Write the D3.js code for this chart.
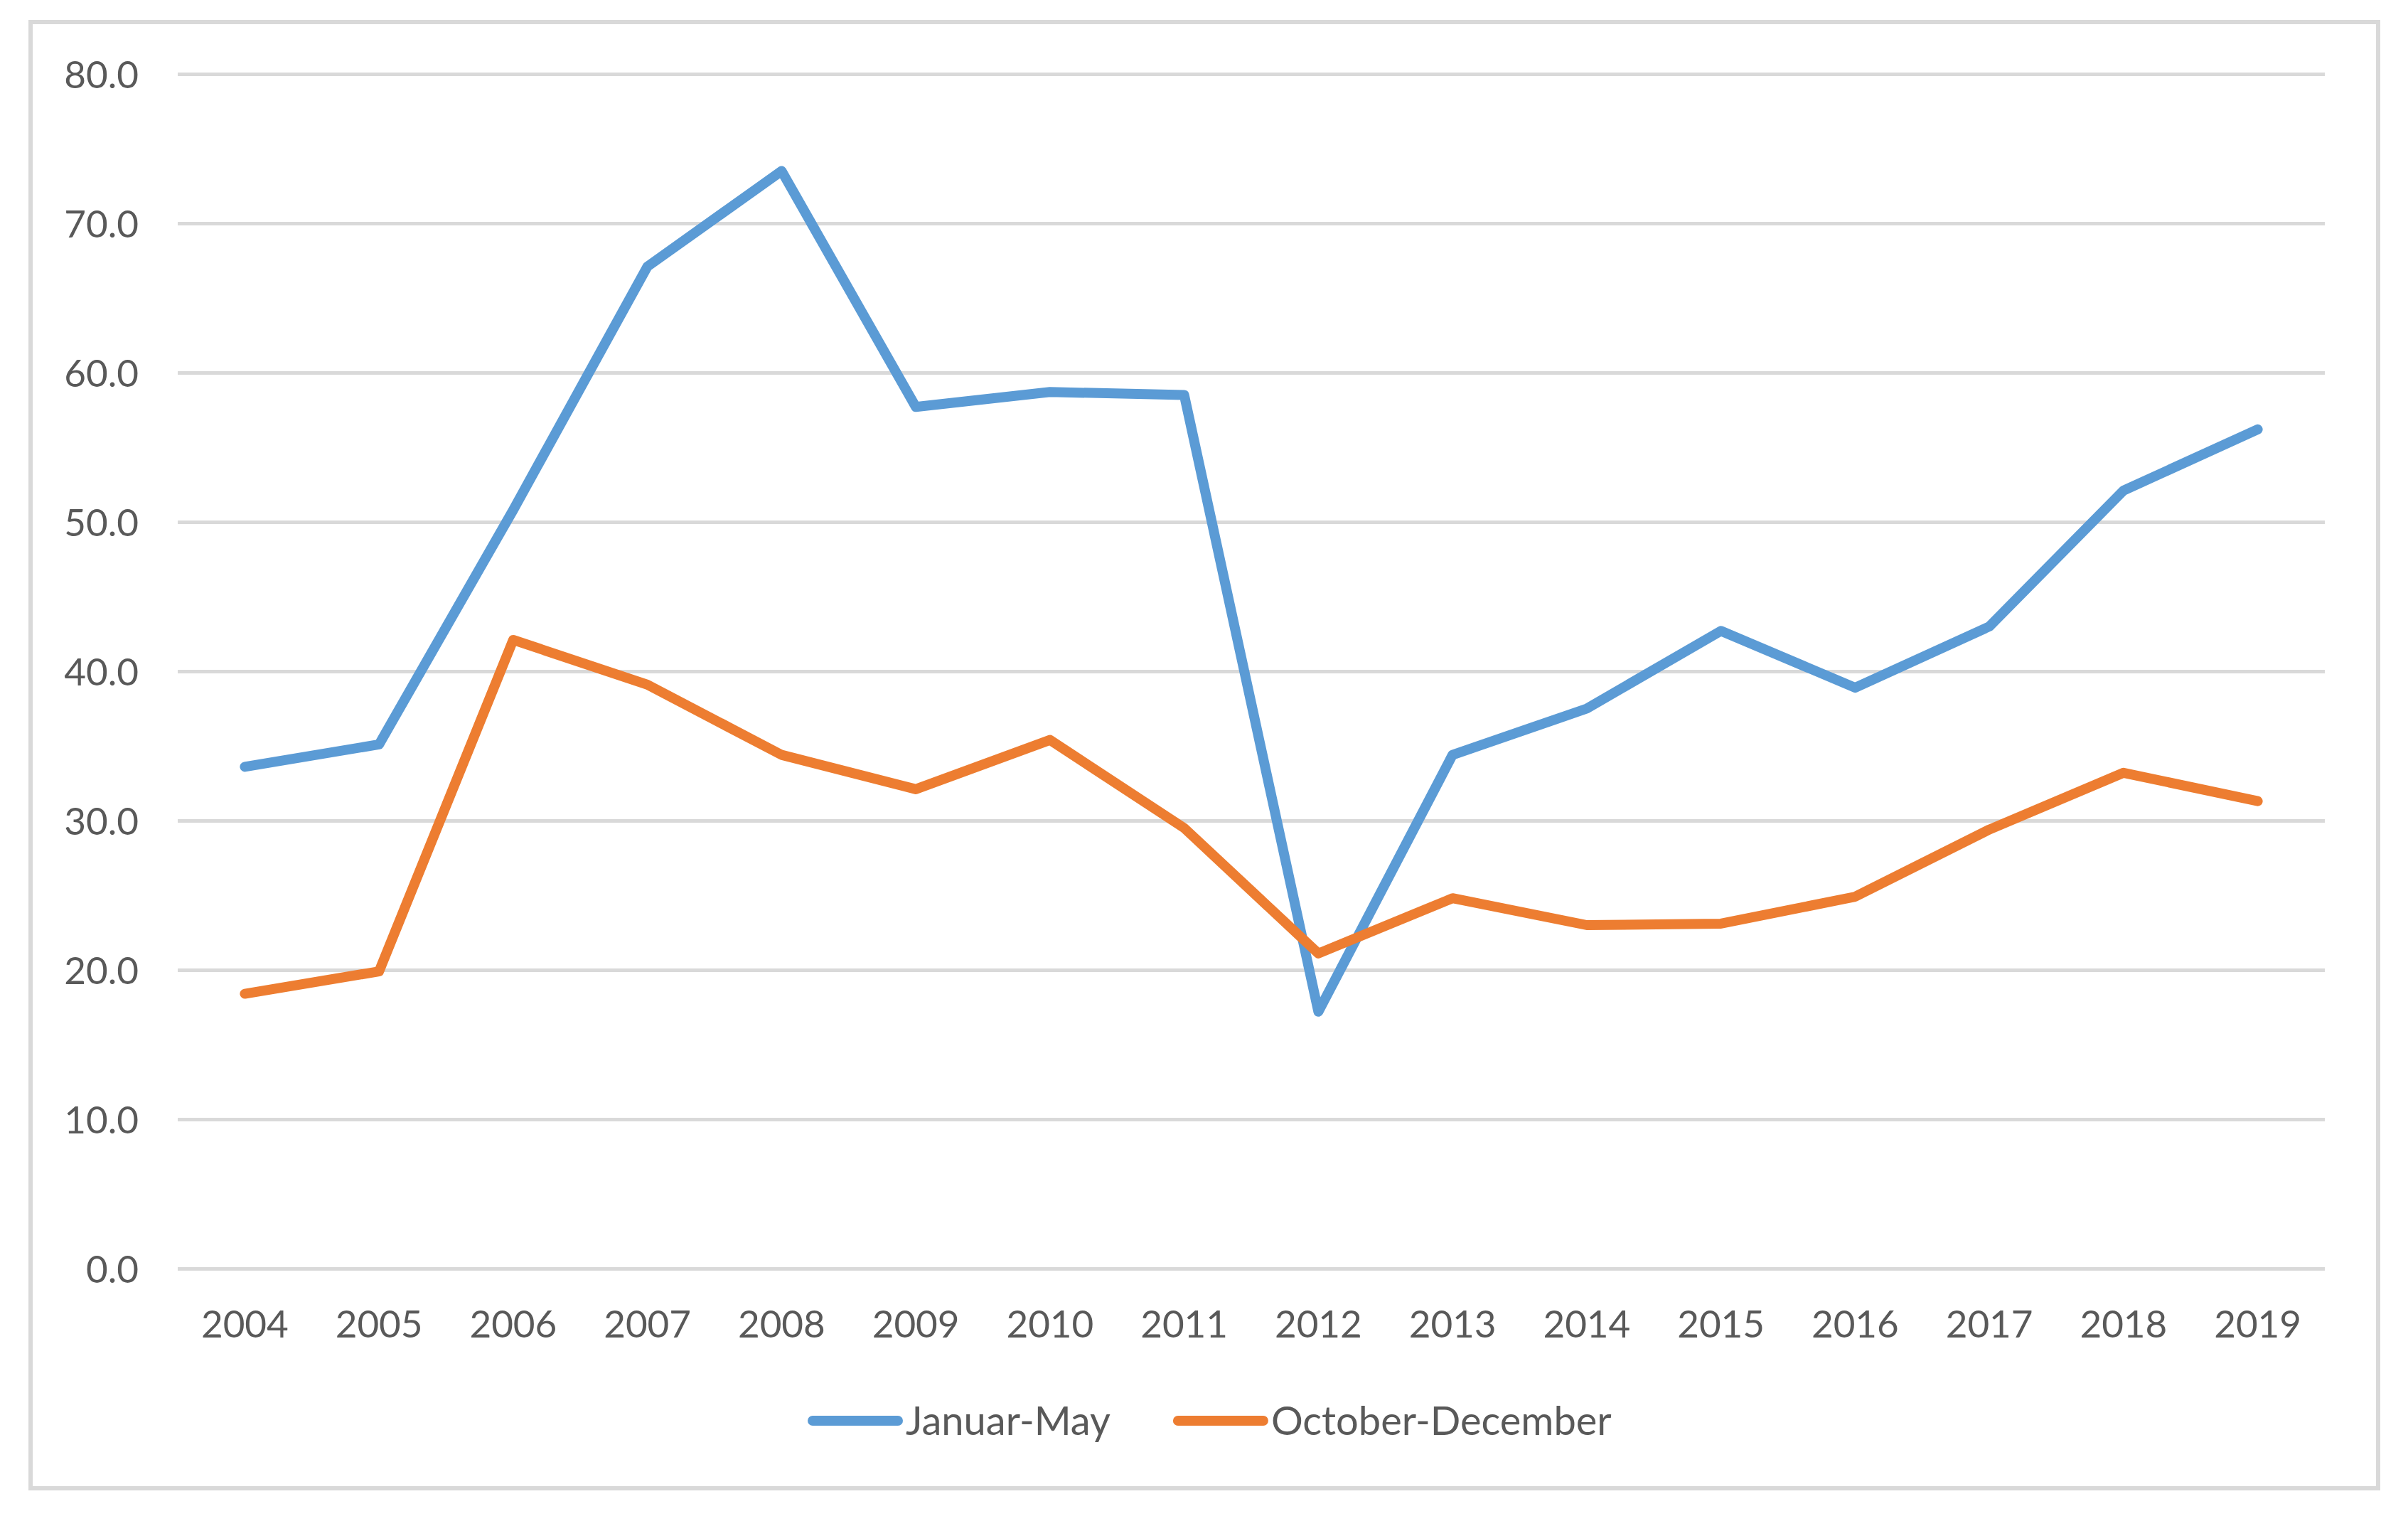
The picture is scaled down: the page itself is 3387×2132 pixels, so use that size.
<!DOCTYPE html>
<html>
<head>
<meta charset="utf-8">
<script src="https://cdn.jsdelivr.net/npm/d3@7/dist/d3.min.js"></script>
<style>
  html, body { margin: 0; padding: 0; background: #ffffff; }
  svg { display: block; }
  text { font-family: Lato, "Open Sans", sans-serif; fill: #595959; }
</style>
</head>
<body>
<svg id="chart" width="3387" height="2132"></svg>
<script>
// ---- data ----
const years = ["2004","2005","2006","2007","2008","2009","2010","2011","2012","2013","2014","2015","2016","2017","2018","2019"];
const januarMay = [33.6, 35.1, 50.8, 67.1, 73.5, 57.7, 58.7, 58.5, 17.2, 34.4, 37.5, 42.7, 38.9, 43.0, 52.1, 56.2];
const octoberDecember = [18.4, 19.9, 42.1, 39.1, 34.4, 32.1, 35.4, 29.5, 21.1, 24.8, 23.0, 23.1, 24.9, 29.4, 33.2, 31.3];
const seriesNames = ["Januar-May", "October-December"];
const yTicks = [0, 10, 20, 30, 40, 50, 60, 70, 80];

// ---- layout ----
const plot = { left: 250, right: 3270, top: 104, bottom: 1784 };
const colors = ["#5B9BD5", "#ED7D31"];
const fontSize = 53;
const lineWidth = 14;

const svg = d3.select("#chart");

// outer chart border
svg.append("rect")
  .attr("x", 43).attr("y", 31)
  .attr("width", 3345 - 43).attr("height", 2093 - 31)
  .attr("fill", "#ffffff")
  .attr("stroke", "#D9D9D9")
  .attr("stroke-width", 6);

const x = d3.scaleBand().domain(years).range([plot.left, plot.right]).paddingInner(0).paddingOuter(0);
const y = d3.scaleLinear().domain([0, 80]).range([plot.bottom, plot.top]);

// gridlines + y axis labels
const yAxis = d3.axisLeft(y)
  .tickValues(yTicks)
  .tickSize(-(plot.right - plot.left))
  .tickPadding(55)
  .tickFormat(d3.format(".1f"));

const gy = svg.append("g")
  .attr("transform", `translate(${plot.left},0)`)
  .call(yAxis);
gy.select(".domain").remove();
gy.selectAll(".tick line")
  .attr("stroke", "#D9D9D9")
  .attr("stroke-width", 5);
gy.selectAll(".tick text")
  .attr("font-size", fontSize)
  .attr("font-family", "Lato, 'Open Sans', sans-serif")
  .attr("fill", "#595959")
  .attr("dy", "0.36em");

// x axis labels
const xAxis = d3.axisBottom(x).tickSize(0).tickPadding(0);
const gx = svg.append("g")
  .attr("transform", `translate(0,${plot.bottom})`)
  .call(xAxis);
gx.select(".domain").remove();
gx.selectAll(".tick text")
  .attr("font-size", fontSize)
  .attr("font-family", "Lato, 'Open Sans', sans-serif")
  .attr("fill", "#595959")
  .attr("dy", null)
  .attr("y", 97);

// lines
const line = d3.line()
  .x((d, i) => x(years[i]) + x.bandwidth() / 2)
  .y(d => y(d));

[januarMay, octoberDecember].forEach((vals, k) => {
  svg.append("path")
    .datum(vals)
    .attr("d", line)
    .attr("fill", "none")
    .attr("stroke", colors[k])
    .attr("stroke-width", lineWidth)
    .attr("stroke-linejoin", "round")
    .attr("stroke-linecap", "round");
});

// legend
const legendY = 1998;
const legendFont = 56;
let lx = 1143;
const sampleLen = 120;
seriesNames.forEach((name, k) => {
  svg.append("line")
    .attr("x1", lx).attr("x2", lx + sampleLen)
    .attr("y1", legendY).attr("y2", legendY)
    .attr("stroke", colors[k])
    .attr("stroke-width", lineWidth)
    .attr("stroke-linecap", "round");
  const t = svg.append("text")
    .attr("x", lx + sampleLen + 11)
    .attr("y", legendY + 20)
    .attr("font-size", legendFont)
    .text(name);
  const w = t.node().getComputedTextLength();
  lx = lx + sampleLen + 11 + w + 95;
});
</script>
</body>
</html>
